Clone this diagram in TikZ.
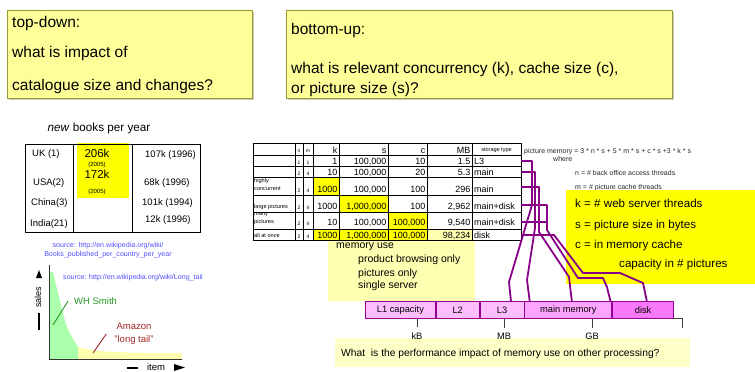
\documentclass[tikz,border=0pt]{standalone}
\usepackage{fontspec}
\setmainfont{Liberation Sans}
\usetikzlibrary{positioning,calc}
\definecolor{noteyellow}{RGB}{255,255,153}
\definecolor{noteedge}{RGB}{153,153,51}
\definecolor{paleyellow}{RGB}{255,255,178}
\definecolor{askyellow}{RGB}{255,255,200}
\definecolor{hiyellow}{RGB}{255,255,0}
\definecolor{srcblue}{RGB}{80,80,255}
\definecolor{wirepurple}{RGB}{136,0,136}
\definecolor{memedge}{RGB}{153,0,153}
\definecolor{memlo}{RGB}{255,190,255}
\definecolor{memmid}{RGB}{255,165,255}
\definecolor{memhi}{RGB}{250,120,250}
\definecolor{shopgreen}{RGB}{40,150,40}
\definecolor{tailred}{RGB}{160,40,40}
\definecolor{headgreen}{RGB}{170,255,170}
\definecolor{tailyellow}{RGB}{255,255,175}
\newcommand{\setfs}[2]{\fontsize{#1}{#2}\selectfont}
\tikzset{
  note/.style={draw=noteedge, fill=noteyellow, line width=0.8pt},
  boxshadow/.style={fill=black!20},
  qline/.style={anchor=base west, inner sep=0pt, font=\setfs{15.5}{18}},
  booktext/.style={anchor=base west, inner sep=0pt, font=\setfs{9.5}{11}},
  src/.style={anchor=base, inner sep=0pt, text=srcblue, font=\setfs{7.1}{8}},
  tabline/.style={line width=0.6pt},
  num/.style={anchor=base east, inner sep=0pt, font=\setfs{9}{10}},
  nm/.style={anchor=base, inner sep=0pt, font=\setfs{5}{6}},
  stype/.style={anchor=base west, inner sep=0pt, font=\setfs{9}{10}},
  rowlab/.style={anchor=base west, inner sep=0pt, align=left, font=\setfs{5.6}{8}},
  formula/.style={anchor=base west, inner sep=0pt, text=black!85, font=\setfs{7}{8}},
  defline/.style={anchor=base west, inner sep=0pt, font=\setfs{11.6}{13}},
  memtext/.style={anchor=base west, inner sep=0pt, font=\setfs{10.5}{12}},
  memcell/.style={draw=memedge, line width=0.8pt, minimum height=17pt,
                  inner sep=0pt, font=\setfs{9.3}{10}},
  scalelab/.style={inner sep=5pt, font=\setfs{9.3}{10}},
  scaletick/.style={draw=black!75, line width=0.9pt},
  memwire/.style={draw=wirepurple, line width=1.8pt, line join=round},
}

\begin{document}
\begin{tikzpicture}[x=1pt,y=-1pt]
  \useasboundingbox (0,0) rectangle (755,372);
  % the two questions
  \fill[boxshadow] (9,12) rectangle (254,100);
  \draw[note] (7,10) rectangle (252,98);
  \node[qline] (td1) at (12,27.6) {top-down:};
  \node[qline] (td2) at (12,57.6) {what is impact of};
  \node[qline] (td3) at (12,90.6) {catalogue size and changes?};
  \fill[boxshadow] (288,12) rectangle (674,100);
  \draw[note] (286,10) rectangle (672,98);
  \node[qline] (bu1) at (291,34.6) {bottom-up:};
  \node[qline] (bu2) at (291,73.6) {what is relevant concurrency (k), cache size (c),};
  \node[qline] (bu3) at (291,93.6) {or picture size (s)?};

  % books per year
  \node[font=\setfs{11.7}{13}] (booktitle) at (99,128) {\textit{new} books per year};
  \fill[hiyellow] (77,143) rectangle (129,198);
  \draw[tabline] (25,144) rectangle (200,232) (73,144) -- (73,232) (132,144) -- (132,232);
  \node[booktext] (uk) at (32,156.4) {UK (1)};
  \node[booktext] (usa) at (33,185.4) {USA(2)};
  \node[booktext] (china) at (31,205.4) {China(3)};
  \node[booktext] (india) at (30,226.4) {India(21)};
  \node[booktext, anchor=base, font=\setfs{11.5}{12}] (ukn) at (97,157.1) {206k};
  \node[booktext, anchor=base, font=\setfs{6}{7}] (ukyr) at (97,166.2) {(2005)};
  \node[booktext, anchor=base, font=\setfs{11.5}{12}] (usan) at (97,178.1) {172k};
  \node[booktext, anchor=base, font=\setfs{6}{7}] (usayr) at (97,193.2) {(2005)};
  \node[booktext] (ukold) at (145,157.4) {107k (1996)};
  \node[booktext] (usaold) at (144,185.4) {68k (1996)};
  \node[booktext] (chinaold) at (142,205.4) {101k (1994)};
  \node[booktext] (indiaold) at (145,222.4) {12k (1996)};
  \node[src] (src1) at (108,247.7) {source: http://en.wikipedia.org/wiki/};
  \node[src] (src2) at (108,256.7) {Books\_published\_per\_country\_per\_year};

  % long tail
  \fill[headgreen] (49,359) -- (49,272) -- plot[smooth] coordinates
        {(53,272) (58,293) (67,327) (78,347)} -- (78,359) -- cycle;
  \fill[tailyellow] (78,359) -- plot[smooth] coordinates
        {(78,347) (95,350.5) (130,352.5) (182,353)} -- (182,359) -- cycle;
  \draw[line width=0.9pt, black!80] (49,265) -- (49,359) -- (182,359);
  \node[src, anchor=base west] (src3) at (63,279.5) {source: http://en.wikipedia.org/wiki/Long\_tail};
  \node[booktext, text=shopgreen] (whs) at (74,304.4) {WH Smith};
  \coordinate (whsfoot) at (53,325);
  \draw[shopgreen, line width=0.9pt] (whsfoot) -- ([xshift=-6pt]whs.west);
  \node[booktext, anchor=base, text=tailred] (amz1) at (134,329.4) {Amazon};
  \node[booktext, anchor=base, text=tailred] (amz2) at (134,342.4) {"long tail"};
  \coordinate (tailfoot) at (93,353);
  \draw[tailred, line width=0.9pt] (tailfoot) -- ($(amz2.west)+(-8,-6)$);
  \fill (36,278) -- (39,270) -- (42,278) -- cycle;
  \node[rotate=90, inner sep=0pt, font=\setfs{9}{10}] (sales) at (38,297) {sales};
  \draw[line width=1.2pt] (39,313) -- (39,330);
  \node[inner sep=0pt, font=\setfs{9.5}{10}] (item) at (156,367) {item};
  \draw[line width=1.2pt] (127,368) -- (138,368);
  \fill (174,364) -- (185,367.5) -- (174,371) -- cycle;

  % memory use note (behind the table)
  \fill[paleyellow] (328,229) rectangle (475,301);
  \node[memtext] (mu0) at (336,248.8) {memory use};
  \node[memtext] (mu1) at (358,262.8) {product browsing only};
  \node[memtext] (mu2) at (358,276.8) {pictures only};
  \node[memtext] (mu3) at (358,288.8) {single server};

  % scenario table
  \fill[white] (472,229) rectangle (521,240);
  \fill[hiyellow] (313,177) rectangle (339,195);
  \fill[hiyellow] (339,195) rectangle (388,212);
  \fill[hiyellow] (388,212) rectangle (427,229);
  \fill[hiyellow] (313,229) rectangle (427,240);
  \foreach \gx in {253,295,303,313,339,388,427,472,521}
    \draw[tabline] (\gx,143) -- (\gx,240);
  \foreach \gy in {143,155,166,177,195,212,229,240}
    \draw[tabline] (253,\gy) -- (521,\gy);
  \node[nm] (hn) at (299,152) {n};
  \node[nm] (hm) at (308,152) {m};
  \node[num] (hk) at (337.5,153.2) {k};
  \node[num] (hs) at (386.5,153.2) {s};
  \node[num] (hc) at (425.5,153.2) {c};
  \node[num] (hmb) at (470.5,153.2) {MB};
  \node[nm, font=\setfs{5.5}{6}] (hst) at (496.5,151.5) {storage type};
  \foreach \by/\n/\m/\k/\s/\c/\mb/\st [count=\r] in {
      164/1/1/1/100{,}000/10/1.5/L3,
      175/2/4/10/100{,}000/20/5.3/main,
      192.2/2/4/1000/100{,}000/100/296/main,
      209.2/2/4/1000/1{,}000{,}000/100/2{,}962/main+disk,
      225.5/2/4/10/100{,}000/100{,}000/9{,}540/main+disk,
      238/2/4/1000/1{,}000{,}000/100{,}000/98{,}234/disk} {
    \node[nm] (n\r) at (299,\by) {\n};
    \node[nm] (m\r) at (308,\by) {\m};
    \node[num] (k\r) at (337.5,\by) {\k};
    \node[num] (s\r) at (386.5,\by) {\s};
    \node[num] (c\r) at (425.5,\by) {\c};
    \node[num] (mb\r) at (470.5,\by) {\mb};
    \node[stype] (st\r) at (474,\by) {\st};
  }
  \node[rowlab, anchor=south west] (lab3) at (254,191) {highly\\concurrent};
  \node[rowlab] (lab4) at (254,208.5) {large pictures};
  \node[rowlab, anchor=south west] (lab5) at (254,225) {many\\pictures};
  \node[rowlab] (lab6) at (254,237.5) {all at once};

  % formula
  \node[formula] (pm) at (524,153.5) {picture memory = 3 * n * s + 5 * m * s + c * s +3 * k * s};
  \node[formula] (where) at (553,161.5) {where};
  \node[formula] (defn) at (575,175.5) {n = \# back office access threads};
  \node[formula] (defm) at (575,189.5) {m = \# picture cache threads};
  \fill[hiyellow] (566,190) rectangle (755,284);
  \node[defline] (defk) at (575,207) {k = \# web server threads};
  \node[defline] (defs) at (575,228) {s = picture size in bytes};
  \node[defline] (defc) at (575,248) {c = in memory cache};
  \node[defline] (defcap) at (619,267) {capacity in \# pictures};

  % closing question (under the scale labels)
  \fill[askyellow] (335,338) rectangle (690,367);
  \node[anchor=base west, inner sep=0pt, font=\setfs{10.3}{12}] (perfq) at (341,356.7)
        {What\ \ is the performance impact of memory use on other processing?};

  % memory hierarchy
  \node[memcell, fill=memlo, minimum width=70pt, anchor=north west] (l1) at (365,301) {L1 capacity};
  \node[memcell, fill=memlo, minimum width=43pt, right=0pt of l1] (l2) {L2};
  \node[memcell, fill=memlo, minimum width=44pt, right=0pt of l2] (l3) {L3};
  \node[memcell, fill=memmid, minimum width=87pt, right=0pt of l3] (mainmem) {main memory};
  \node[memcell, fill=memhi, minimum width=61pt, right=0pt of mainmem] (disk) {disk};
  \node[scalelab] (kb) at (417,336) {kB};
  \node[scalelab] (mb) at (504,336) {MB};
  \node[scalelab] (gb) at (592,336) {GB};
  \draw[scaletick] (kb.north) -- (kb.north |- l1.south);
  \draw[scaletick] (mb.north) -- (mb.north |- l1.south);
  \draw[scaletick] (gb.north) -- (gb.north |- l1.south);
  \draw[scaletick] (disk.south east) -- ++(8,0) -- ++(0,9);

  % wires from table rows to storage
  \coordinate (w1) at (521,161);
  \coordinate (w2) at (521,172);
  \coordinate (w3) at (521,187);
  \coordinate (w4) at (521,205);
  \coordinate (w5) at (521,222);
  \coordinate (w6) at (521,235);
  \coordinate (t1) at ($(l3.north west)!0.7!(l3.north east)$);
  \coordinate (t2) at ($(mainmem.north west)!0.06!(mainmem.north east)$);
  \coordinate (t3) at ($(mainmem.north west)!0.54!(mainmem.north east)$);
  \coordinate (t4) at ($(mainmem.north west)!0.98!(mainmem.north east)$);
  \coordinate (t6) at ($(disk.north west)!0.56!(disk.north east)$);
  \draw[memwire] (w1) -- (532,161) -- (532,205) -- (509,282) -- (t1);
  \draw[memwire] (w2) -- (535,172) -- (535,228) -- (527,280) -- (t2);
  \draw[memwire] (w3) -- (539,187) -- (539,232) -- (569,277) -- (t3);
  \draw[memwire] (w4) -- (547,205) -- (547,230) -- (578,278) -- (603,278) -- (607,287) -- (t4);
  \draw[memwire] (w5) -- (547,222);
  \draw[memwire] (w6) -- (554,235) -- (583,273) -- (620,273) -- (643,283) -- (t6);
\end{tikzpicture}
\end{document}
